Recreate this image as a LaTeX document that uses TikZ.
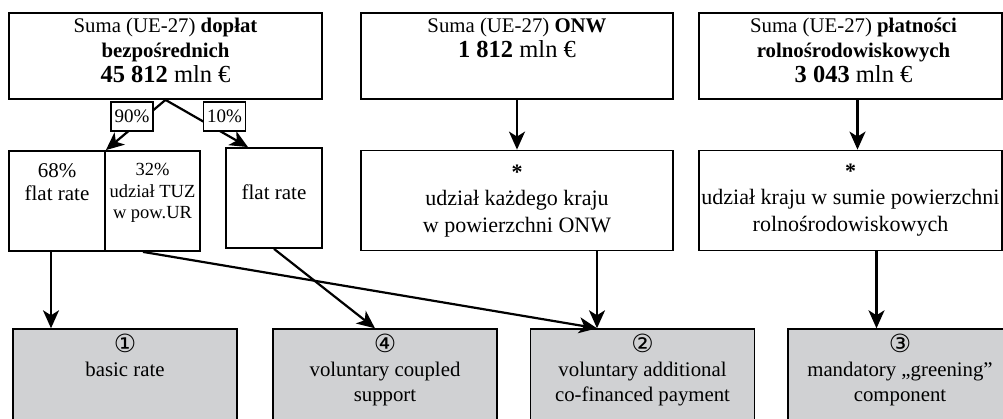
\documentclass[tikz,border=0pt]{standalone}
\usepackage{fontspec}
\setmainfont{Liberation Serif}
\newfontfamily\symfont{DejaVu Sans}
\usetikzlibrary{arrows.meta}
\definecolor{resgray}{RGB}{208,209,211}
\tikzset{
  box/.style={draw, line width=1.8pt, inner sep=0pt, minimum height=100pt},
  res/.style={draw, line width=1.4pt, fill=resgray, inner sep=0pt, minimum width=224pt, minimum height=100pt},
  pct/.style={draw, fill=white, line width=1.6pt, inner sep=0pt, minimum width=42pt, minimum height=29pt, font=\fontsize{19}{21}\selectfont},
  txt/.style={anchor=north, inner sep=0pt, align=center},
  arr/.style={-{Stealth[length=18pt, width=16pt, inset=5pt]}, line width=2.2pt},
}
\begin{document}
\begin{tikzpicture}[x=1pt, y=-1pt, font=\fontsize{20.8}{25}\selectfont]
    \useasboundingbox (0,0) rectangle (1003,419);
    \node[box, minimum width=313pt, minimum height=86pt, label={[txt, yshift=-5.6pt]north:{Suma (UE-27) \textbf{dopłat}\\\textbf{bezpośrednich}\\{\fontsize{24.5}{25}\selectfont\textbf{45 812} mln €}}}] (sumDP) at (165.5,56) {};
    \node[box, minimum width=312pt, minimum height=86pt, label={[txt, yshift=-5.6pt]north:{Suma (UE-27) \textbf{ONW}\\{\fontsize{24.5}{27}\selectfont\textbf{1 812} mln €}}}] (sumONW) at (517,56) {};
    \node[box, minimum width=303pt, minimum height=86pt, label={[txt, yshift=-5.6pt, xshift=3pt]north:{Suma (UE-27) \textbf{płatności}\\\textbf{rolnośrodowiskowych}\\{\fontsize{24.5}{25}\selectfont\textbf{3 043} mln €}}}] (sumPR) at (850.5,56) {};
    \node[box, minimum width=96pt, label={[txt, yshift=-12.8pt, font=\fontsize{21}{23.5}\selectfont]north:{68\%\\flat rate}}] (r68) at (57,201) {};
    \node[box, minimum width=95pt, label={[txt, yshift=-13.2pt, font=\fontsize{18.5}{21.5}\selectfont]north:{32\%\\udział TUZ\\w pow.UR}}] (r32) at (152.5,201) {};
    \node[box, minimum width=96pt, label={[txt, yshift=-37.7pt, font=\fontsize{21}{23.5}\selectfont]north:{flat rate}}] (rflat) at (274,198) {};
    \node[box, minimum width=312pt, label={[txt, yshift=-15pt, font=\fontsize{22}{26.5}\selectfont]north:{\textbf{*}\\udział każdego kraju\\w powierzchni ONW}}] (shONW) at (517,200.5) {};
    \node[box, minimum width=303pt, label={[txt, yshift=-14pt, font=\fontsize{22}{26.5}\selectfont]north:{\textbf{*}\\udział kraju w sumie powierzchni\\rolnośrodowiskowych}}] (shPR) at (850.5,200.5) {};
    % circled numbers
    \node[res, label={[txt, yshift=-6pt]north:{{\symfont\fontsize{25}{25}\selectfont ①}\\[-1pt]basic rate}}] (pay1) at (125,379) {};
    \node[res, label={[txt, yshift=-6pt]north:{{\symfont\fontsize{25}{25}\selectfont ④}\\[-1pt]voluntary coupled\\support}}] (pay4) at (385,379) {};
    \node[res, label={[txt, yshift=-6pt]north:{{\symfont\fontsize{25}{25}\selectfont ②}\\[-1pt]voluntary additional\\co-financed payment}}] (pay2) at (642.5,379) {};
    \node[res, label={[txt, yshift=-6pt]north:{{\symfont\fontsize{25}{25}\selectfont ③}\\[-1pt]mandatory „greening”\\component}}] (pay3) at (900,379) {};
    \draw[arr] (sumDP.south) -- (r68.north east);
    \draw[arr] (sumDP.south) -- ([xshift=-26pt]rflat.north);
    \node[pct] (p90) at (132,116.5) {90\%};
    \node[pct] (p10) at (224.5,116.5) {10\%};
    \draw[arr] (sumONW.south) -- (shONW.north);
    \draw[arr] ([xshift=7pt]sumPR.south) -- ([xshift=7pt]shPR.north);
    \draw[arr] ([xshift=-6pt]r68.south) -- ([xshift=-6pt]r68.south |- pay1.north);
    \draw[arr] ([xshift=-9.5pt]r32.south) -- ([xshift=-45.5pt]pay2.north);
    \draw[arr] (rflat.south) -- ([xshift=-10pt]pay4.north);
    \draw[arr] ([xshift=80pt]shONW.south) -- ([xshift=-45.5pt]pay2.north);
    \draw[arr] ([xshift=26pt]shPR.south) -- ([xshift=26pt]shPR.south |- pay3.north);
\end{tikzpicture}
\end{document}
